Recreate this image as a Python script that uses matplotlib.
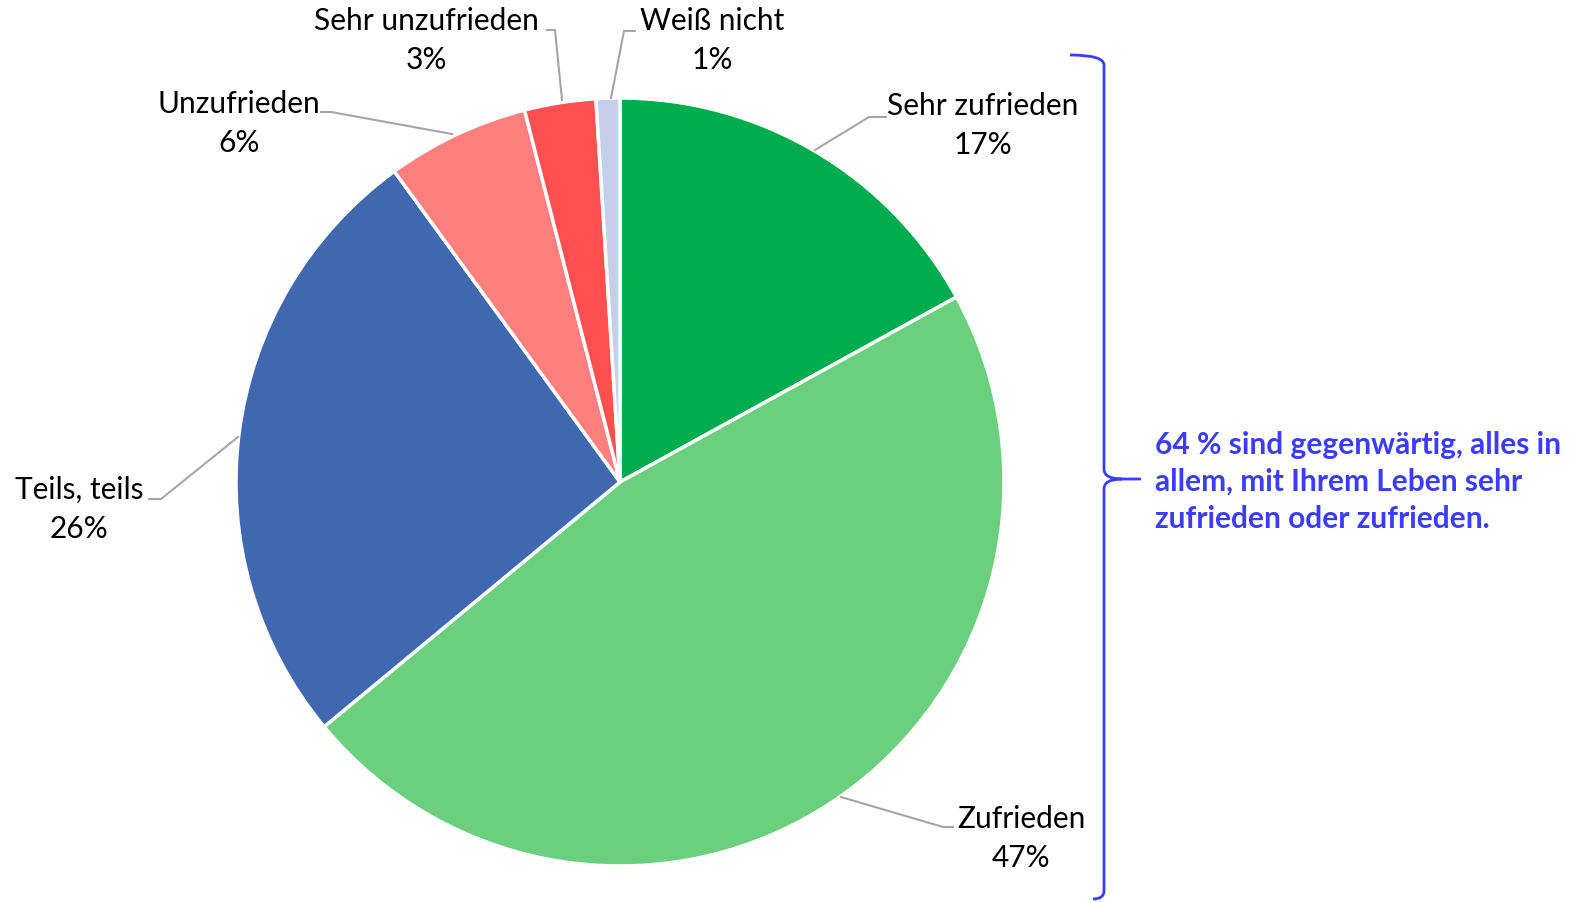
import matplotlib.pyplot as plt
from matplotlib.path import Path
from matplotlib.patches import PathPatch

# Daten
kategorien = ['Sehr zufrieden', 'Zufrieden', 'Teils, teils', 'Unzufrieden',
              'Sehr unzufrieden', 'Weiß nicht']
anteile = [17, 47, 26, 6, 3, 1]
farben = ['#00AD4E', '#6AD07E', '#3F68B0', '#FF7F7F', '#FF4F4F', '#C5D0E8']
hinweis = '64 % sind gegenwärtig, alles in\nallem, mit Ihrem Leben sehr\nzufrieden oder zufrieden.'

W, H = 1575, 903
plt.rcParams['font.family'] = ['Lato', 'DejaVu Sans']

fig = plt.figure(figsize=(W / 100, H / 100), dpi=100)
ax = fig.add_axes([0, 0, 1, 1])

cx, cy, r = 620, H - 483, 384
ax.pie(anteile, colors=farben, startangle=90, counterclock=False,
       center=(cx, cy), radius=r, frame=True,
       wedgeprops=dict(edgecolor='white', linewidth=2.5))
ax.set_xlim(0, W)
ax.set_ylim(0, H)
ax.set_aspect('equal')
ax.axis('off')

# Beschriftungen: (Textmitte x, y der ersten Zeile), Führungslinie
label_pos = [
    (983, 106, [(815, 151), (869, 118), (886, 118)]),
    (1021, 819, [(841, 798), (943, 828), (953, 828)]),
    (79, 490, [(238, 438), (161, 500), (149, 500)]),
    (239, 104, [(452, 135), (331, 113), (321, 113)]),
    (426, 21, [(562, 101), (555, 31), (547, 31)]),
    (712, 21, [(611, 99), (624, 32), (635, 32)]),
]
for name, wert, (tx, ty, linie) in zip(kategorien, anteile, label_pos):
    ax.text(tx, H - ty, name, ha='center', va='center', fontsize=21.5, color='black')
    ax.text(tx, H - ty - 39, f'{wert}%', ha='center', va='center', fontsize=21.5, color='black')
    xs = [p[0] for p in linie]
    ys = [H - p[1] for p in linie]
    ax.plot(xs, ys, color='#A6A6A6', linewidth=1.5)

# geschweifte Klammer
blau = '#3C3CFF'
verts = [(1070, 56), (1104, 56), (1104, 66),
         (1104, 470),
         (1104, 480), (1122, 480),
         (1141, 480),
         (1122, 480), (1104, 480), (1104, 490),
         (1104, 892),
         (1104, 900), (1093, 900)]
codes = [Path.MOVETO, Path.CURVE3, Path.CURVE3,
         Path.LINETO,
         Path.CURVE3, Path.CURVE3,
         Path.LINETO,
         Path.MOVETO, Path.CURVE3, Path.CURVE3,
         Path.LINETO,
         Path.CURVE3, Path.CURVE3]
verts = [(x, H - y) for x, y in verts]
ax.add_patch(PathPatch(Path(verts, codes), facecolor='none', edgecolor=blau, linewidth=2))

ax.text(1155, H - 482, hinweis, ha='left', va='center', fontsize=21.5,
        fontweight='bold', color=blau, linespacing=1.4)

fig.savefig('out.png', dpi=100)
